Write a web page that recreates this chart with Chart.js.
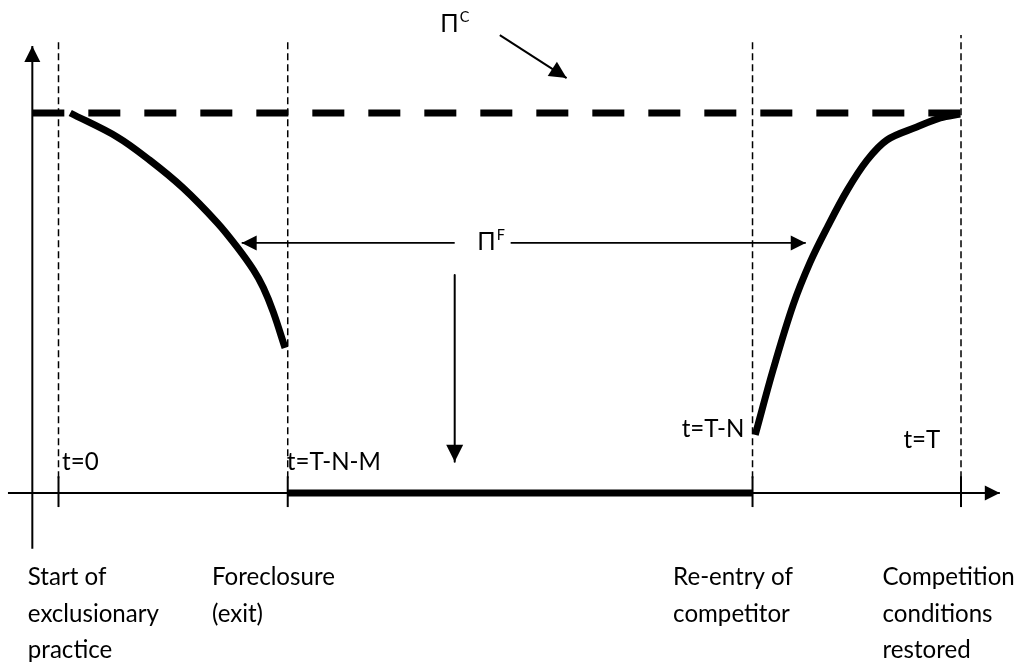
<!DOCTYPE html>
<html><head><meta charset="utf-8">
<script src="https://cdn.jsdelivr.net/npm/chart.js@4.4.1/dist/chart.umd.min.js"></script>
<style>html,body{margin:0;padding:0;background:#fff;}#wrap{width:1024px;height:666px;position:relative;}</style>
</head><body><div id="wrap"><canvas id="c"></canvas></div>
<script>
// ---- data (x: time units, t=0 -> 0, t=T -> 100; y: profit index, Π^C = 100) ----
const timeMarks = [0, 25.4, 76.9, 100];
const timeLabels = ['t=0', 't=T-N-M', 't=T-N', 't=T'];
const competitiveProfit = 100;
const foreclosureX = [1.3, 6.5, 10.1, 13.8, 17.6, 19.8, 21.6, 22.7, 23.8, 25.1];
const foreclosureY = [100, 93.7, 87.6, 80.3, 71.1, 64.7, 58.7, 54.0, 47.6, 38.2];
const recoveryX = [77.2, 79.2, 81.4, 83.3, 85.2, 87.4, 89.6, 91.8, 95.1, 97.7, 99.9];
const recoveryY = [15.3, 32.6, 49.5, 60.8, 70.0, 79.7, 87.6, 92.9, 96.3, 98.7, 99.7];
const eventLabels = [
  ['Start of', 'exclusionary', 'practice'],
  ['Foreclosure', '(exit)'],
  ['Re-entry of', 'competitor'],
  ['Competition', 'conditions', 'restored']
];
const profitSymbols = ['Π', 'C', 'F'];

// ---- layout (positions in axis units) ----
const L = {
  xMin: -6.482, xMax: 106.98, yMin: -45.526, yMax: 129.737,
  yAxisX: -2.9, yAxisBottom: -14.7, yAxisTop: 117.6,
  xAxisLeft: -5.6, xAxisRight: 104.3,
  tickLow: -3.7, tickHigh: 4.4,
  guideLow: 3.9, guideHigh: [119.2, 119.2, 119.2, 120.5],
  tickLabelX: [0.4, 25.3, 76.0, 97.7], tickLabelAlign: ['left', 'left', 'right', 'right'],
  tickLabelY: [6.1, 6.1, 14.7, 11.8],
  eventX: [-3.4, 17.0, 68.1, 91.3], eventY: [-24.2, -34.0, -43.4],
  piC: {x: 42.3, y: 121.3}, piF: {x: 46.4, y: 63.9},
  arrowPiCFrom: {x: 48.9, y: 120.5}, arrowPiCTo: {x: 56.3, y: 109.2},
  arrowLeftFrom: {x: 43.9, y: 65.8}, arrowLeftTo: {x: 20.3, y: 65.8},
  arrowRightFrom: {x: 50.1, y: 65.8}, arrowRightTo: {x: 82.8, y: 65.8},
  arrowDownFrom: {x: 43.9, y: 57.4}, arrowDownTo: {x: 43.9, y: 8.2}
};
const FONT = "Lato, 'Noto Sans', 'DejaVu Sans', sans-serif";

function line(points, opts) {
  return Object.assign({
    data: points, showLine: true, pointRadius: 0, pointHoverRadius: 0,
    borderColor: '#000', backgroundColor: '#000', borderWidth: 2, fill: false,
    borderCapStyle: 'butt', tension: 0
  }, opts || {});
}

const datasets = [];
// Π^C dashed level
datasets.push(line([{x: L.yAxisX, y: competitiveProfit}, {x: timeMarks[3], y: competitiveProfit}], {borderWidth: 7, borderDash: [32, 24]}));
// vertical guides
timeMarks.forEach((t, i) => datasets.push(line([{x: t, y: L.guideLow}, {x: t, y: L.guideHigh[i]}], {borderWidth: 1.5, borderDash: [7, 4]})));
// profit curves
datasets.push(line(foreclosureX.map((x, i) => ({x, y: foreclosureY[i]})), {borderWidth: 7, tension: 0.35}));
datasets.push(line(recoveryX.map((x, i) => ({x, y: recoveryY[i]})), {borderWidth: 7, tension: 0.35}));
// axes
datasets.push(line([{x: L.xAxisLeft, y: 0}, {x: L.xAxisRight, y: 0}], {borderWidth: 2, arrowHead: {len: 15, half: 7.5}}));
datasets.push(line([{x: L.yAxisX, y: L.yAxisBottom}, {x: L.yAxisX, y: L.yAxisTop}], {borderWidth: 2, arrowHead: {len: 16, half: 8}}));
// foreclosure period segment
datasets.push(line([{x: timeMarks[1], y: 0}, {x: timeMarks[2], y: 0}], {borderWidth: 7}));
// tick marks
timeMarks.forEach(t => datasets.push(line([{x: t, y: L.tickLow}, {x: t, y: L.tickHigh}], {borderWidth: 2})));
// annotation arrows
datasets.push(line([L.arrowPiCFrom, L.arrowPiCTo], {borderWidth: 2, arrowHead: {len: 17, half: 8.5}}));
datasets.push(line([L.arrowLeftFrom, L.arrowLeftTo], {borderWidth: 1.8, arrowHead: {len: 15, half: 7.5}}));
datasets.push(line([L.arrowRightFrom, L.arrowRightTo], {borderWidth: 1.8, arrowHead: {len: 15, half: 7.5}}));
datasets.push(line([L.arrowDownFrom, L.arrowDownTo], {borderWidth: 2, arrowHead: {len: 17, half: 8.5}}));

const overlay = {
  id: 'overlay',
  afterDatasetsDraw(chart) {
    const ctx = chart.ctx, xs = chart.scales.x, ys = chart.scales.y;
    chart.data.datasets.forEach((ds, i) => {
      if (!ds.arrowHead) return;
      const pts = chart.getDatasetMeta(i).data;
      const a = pts[pts.length - 2], b = pts[pts.length - 1];
      const ang = Math.atan2(b.y - a.y, b.x - a.x);
      ctx.save();
      ctx.translate(b.x, b.y); ctx.rotate(ang);
      ctx.beginPath(); ctx.moveTo(0, 0);
      ctx.lineTo(-ds.arrowHead.len, -ds.arrowHead.half);
      ctx.lineTo(-ds.arrowHead.len, ds.arrowHead.half);
      ctx.closePath(); ctx.fillStyle = '#000'; ctx.fill();
      ctx.restore();
    });
    // font size fitted to the reference text width
    ctx.save();
    ctx.font = '25px ' + FONT;
    const fs = 25 * 123 / ctx.measureText('Foreclosure').width;
    ctx.font = fs.toFixed(2) + 'px ' + FONT;
    ctx.fillStyle = '#000'; ctx.textBaseline = 'alphabetic';
    timeLabels.forEach((s, i) => {
      ctx.textAlign = L.tickLabelAlign[i];
      ctx.fillText(s, xs.getPixelForValue(L.tickLabelX[i]), ys.getPixelForValue(L.tickLabelY[i]));
    });
    ctx.textAlign = 'left';
    eventLabels.forEach((lines, i) => {
      lines.forEach((s, j) => ctx.fillText(s, xs.getPixelForValue(L.eventX[i]), ys.getPixelForValue(L.eventY[j])));
    });
    const sym = (pos, sup) => {
      const px = xs.getPixelForValue(pos.x), py = ys.getPixelForValue(pos.y);
      ctx.font = fs.toFixed(2) + 'px ' + FONT;
      ctx.fillText(profitSymbols[0], px, py);
      const w = ctx.measureText(profitSymbols[0]).width;
      ctx.font = (fs * 0.6).toFixed(2) + 'px ' + FONT;
      ctx.fillText(sup, px + w + 1, py - fs * 0.42);
    };
    sym(L.piC, profitSymbols[1]);
    sym(L.piF, profitSymbols[2]);
    ctx.restore();
  }
};

new Chart(document.getElementById('c'), {
  type: 'scatter',
  data: {datasets},
  options: {
    responsive: true, maintainAspectRatio: false, animation: false,
    layout: {padding: 0},
    plugins: {legend: {display: false}, tooltip: {enabled: false}, title: {display: false}},
    events: [],
    scales: {
      x: {type: 'linear', display: false, min: L.xMin, max: L.xMax},
      y: {type: 'linear', display: false, min: L.yMin, max: L.yMax}
    },
    elements: {line: {borderJoinStyle: 'round'}}
  },
  plugins: [overlay]
});
</script></body></html>
